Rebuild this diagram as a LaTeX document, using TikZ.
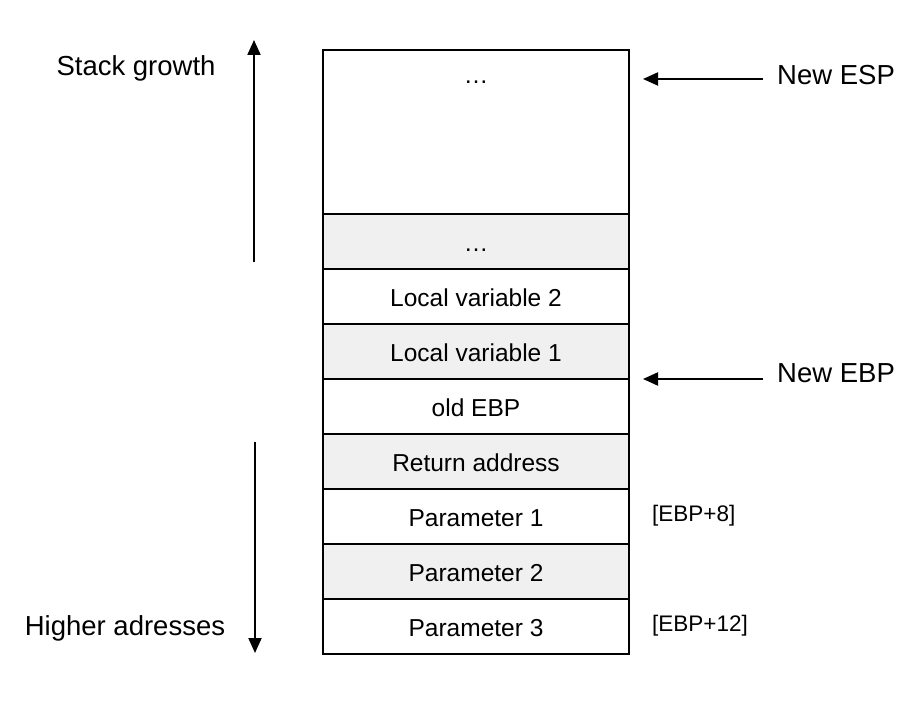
\documentclass[tikz,border=0pt]{standalone}
\usepackage{fontspec}
\setmainfont{Liberation Sans}
\usetikzlibrary{arrows.meta}

\begin{document}
\begin{tikzpicture}[x=1pt,y=-1pt,
    cell/.style={draw,line width=1.5pt,minimum width=306pt,minimum height=55pt,inner sep=0pt,
        text height=20pt,text depth=0pt,font=\fontsize{24.5}{28}\selectfont},
    side/.style={inner sep=0pt,anchor=base,font=\fontsize{27.5}{32}\selectfont},
    offs/.style={inner sep=0pt,anchor=base west,font=\fontsize{22.5}{26}\selectfont},
    arr/.style={line width=2pt,-{Triangle[length=15pt,width=13pt]}}]
    \useasboundingbox (0,0) rectangle (922,708);
    % stack
    \node[cell,minimum height=164pt] (top) at (476,132) {};
    \node[inner sep=0pt,anchor=base,font=\fontsize{24.5}{28}\selectfont] (topdots) at (476,84) {…};
    \foreach \i/\txt/\col in {1/…/black!6, 2/Local variable 2/white, 3/Local variable 1/black!6,
        4/old EBP/white, 5/Return address/black!6, 6/Parameter 1/white,
        7/Parameter 2/black!6, 8/Parameter 3/white} {
        \node[cell,fill=\col] (row\i) at (476,{241.5+55*(\i-1)}) {\txt};
    }
    % labels
    \node[side] (growth) at (136,76) {Stack growth};
    \node[side] (higher) at (125,636) {Higher adresses};
    \node[side,anchor=base west] (esp) at (777,85) {New ESP};
    \node[side,anchor=base west] (ebp) at (777,383) {New EBP};
    \node[offs] (p1) at (652,521.5) {[EBP+8]};
    \node[offs] (p3) at (652,631.5) {[EBP+12]};
    % arrows
    \coordinate (growlo) at (254,262);
    \coordinate (growhi) at (254,40);
    \coordinate (addrhi) at (255,442);
    \coordinate (addrlo) at (255,653);
    \coordinate (espto) at (643,79);
    \coordinate (ebpto) at (643,379);
    \draw[arr] (growlo) -- (growhi);
    \draw[arr] (addrhi) -- (addrlo);
    \draw[arr,shorten <=14pt] (esp.west |- espto) -- (espto);
    \draw[arr,shorten <=14pt] (ebp.west |- ebpto) -- (ebpto);
\end{tikzpicture}
\end{document}
